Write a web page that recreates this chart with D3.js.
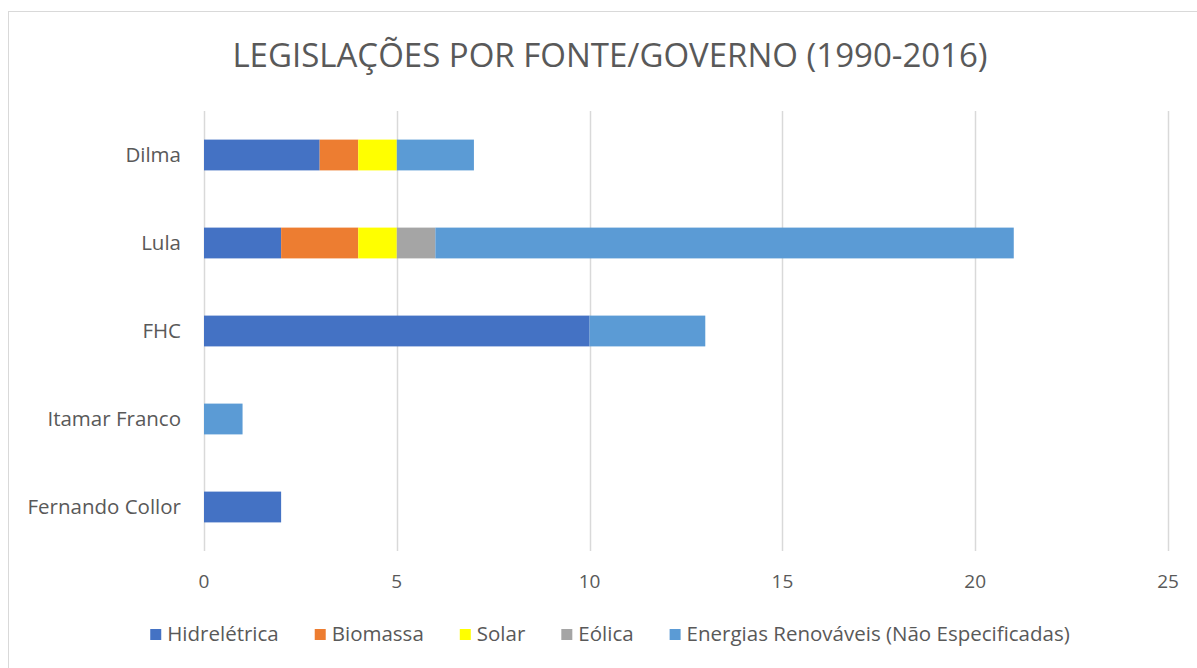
<!DOCTYPE html>
<meta charset="utf-8">
<script src="https://cdn.jsdelivr.net/npm/d3@7"></script>
<style>
body { margin: 0; background: #fff; }
text { font-family: "Open Sans", "Noto Sans", sans-serif; fill: #595959; }
</style>
<body>
<script>

// governments (top to bottom as drawn)
var governos = ["Dilma", "Lula", "FHC", "Itamar Franco", "Fernando Collor"];

// series
var fontes = ["Hidrelétrica", "Biomassa", "Solar", "Eólica", "Energias Renováveis (Não Especificadas)"];
var cores = ["#4472C4", "#ED7D31", "#FFFF00", "#A5A5A5", "#5B9BD5"];

// values per series, same order as governos
var hidreletrica = [3, 2, 10, 0, 2];
var biomassa     = [1, 2, 0, 0, 0];
var solar        = [1, 1, 0, 0, 0];
var eolica       = [0, 1, 0, 0, 0];
var renovaveis   = [2, 15, 3, 1, 0];

var xTicks = [0, 5, 10, 15, 20, 25];

var width = 1197, height = 668;

var table = governos.map(function(g, i) {
  return {
    governo: g,
    "Hidrelétrica": hidreletrica[i],
    "Biomassa": biomassa[i],
    "Solar": solar[i],
    "Eólica": eolica[i],
    "Energias Renováveis (Não Especificadas)": renovaveis[i]
  };
});

var svg = d3.select("body").append("svg")
    .attr("width", width)
    .attr("height", height);

// chart border
svg.append("rect")
    .attr("x", 8.5).attr("y", 11.5)
    .attr("width", 1220).attr("height", 700)
    .attr("fill", "none")
    .attr("stroke", "#d9d9d9");

svg.append("text")
    .attr("x", 610)
    .attr("y", 67)
    .attr("text-anchor", "middle")
    .style("font-size", "33px")
    .text("LEGISLAÇÕES POR FONTE/GOVERNO (1990-2016)");

var plotLeft = 204, plotRight = 1168, plotTop = 111, plotBottom = 551;

var x = d3.scaleLinear().domain([0, 25]).range([plotLeft, plotRight]);
var y = d3.scaleBand().domain(governos).range([plotTop, plotBottom]).paddingInner(0.65).paddingOuter(0.325);

// gridlines
svg.append("g")
  .selectAll("line")
  .data(xTicks)
  .enter().append("line")
    .attr("x1", function(d) { return Math.round(x(d)) + 0.5; })
    .attr("x2", function(d) { return Math.round(x(d)) + 0.5; })
    .attr("y1", plotTop)
    .attr("y2", plotBottom)
    .attr("stroke", "#d9d9d9")
    .attr("stroke-width", 1.5);

var stack = d3.stack().keys(fontes)(table);

svg.append("g")
  .selectAll("g")
  .data(stack)
  .enter().append("g")
    .attr("fill", function(d, i) { return cores[i]; })
  .selectAll("rect")
  .data(function(d) { return d; })
  .enter().append("rect")
    .attr("x", function(d) { return x(d[0]); })
    .attr("width", function(d) { return x(d[1]) - x(d[0]); })
    .attr("y", function(d) { return y(d.data.governo); })
    .attr("height", y.bandwidth());

// x tick labels
svg.append("g")
  .selectAll("text")
  .data(xTicks)
  .enter().append("text")
    .attr("x", function(d) { return x(d); })
    .attr("y", 588)
    .attr("text-anchor", "middle")
    .style("font-size", "19px")
    .text(function(d) { return d; });

// category labels
svg.append("g")
  .selectAll("text")
  .data(governos)
  .enter().append("text")
    .attr("x", 181)
    .attr("y", function(d) { return y(d) + y.bandwidth() / 2; })
    .attr("dy", "0.35em")
    .attr("text-anchor", "end")
    .style("font-size", "20.5px")
    .text(function(d) { return d; });

// legend
var legend = svg.append("g");
var items = legend.selectAll("g")
  .data(fontes)
  .enter().append("g");

items.append("rect")
    .attr("width", 11).attr("height", 11)
    .attr("y", 629)
    .attr("fill", function(d, i) { return cores[i]; });

items.append("text")
    .attr("x", 17)
    .attr("y", 634)
    .attr("dy", "0.35em")
    .style("font-size", "20.5px")
    .text(function(d) { return d; });

var pos = 0, gap = 36;
items.each(function() {
  var w = d3.select(this).select("text").node().getComputedTextLength();
  d3.select(this).attr("transform", "translate(" + pos + ",0)");
  pos += 17 + w + gap;
});
pos -= gap;
legend.attr("transform", "translate(" + (610 - pos / 2) + ",0)");

</script>
</body>
